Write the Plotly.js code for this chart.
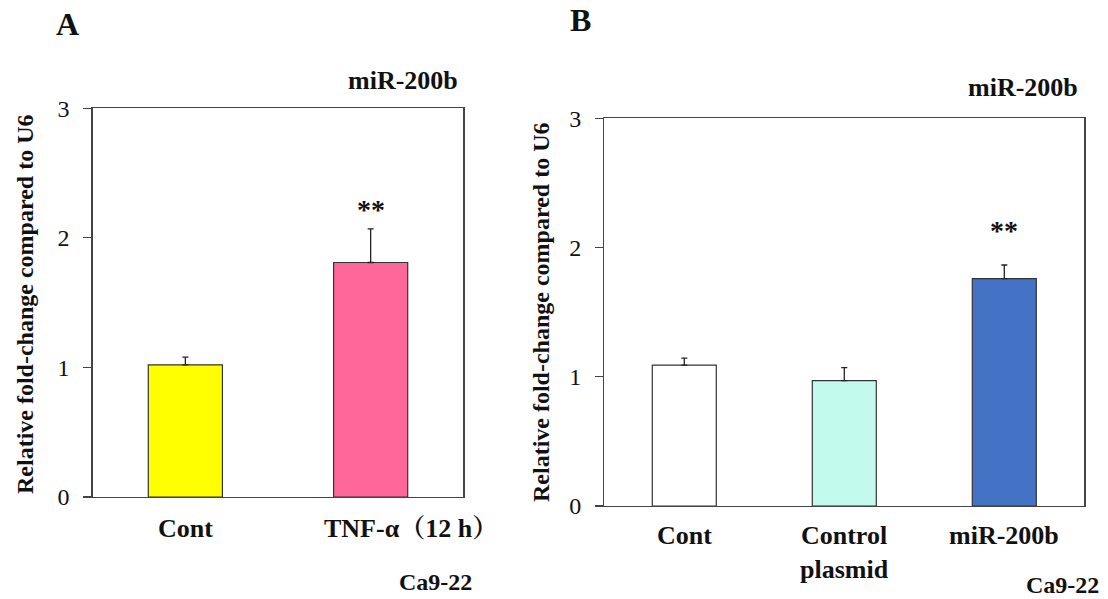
<!DOCTYPE html>
<html>
<head>
<meta charset="utf-8">
<script src="https://cdn.plot.ly/plotly-3.0.1.min.js"></script>
<style>html,body{margin:0;padding:0;background:#fff;}#chart{width:1108px;height:599px;}</style>
</head>
<body>
<div id="chart"></div>
<script>
// ---- data ----
const catsA = ['Cont', 'TNF-α（12 h）'];
const valsA = [1.02, 1.81];
const errA = [0.06, 0.26];
const sigA = ['', '**'];

const catsB = ['Cont', 'Control<br>plasmid', 'miR-200b'];
const valsB = [1.09, 0.97, 1.76];
const errB = [0.055, 0.10, 0.105];
const sigB = ['', '', '**'];

const yTicks = [0, 1, 2, 3];
const panelTitle = 'miR-200b';
const yTitle = 'Relative fold-change compared to U6';
const cellLine = 'Ca9-22';

// ---- styles ----
const colorsA = ['#FFFF00', '#FF6699'];
const colorsB = ['#FFFFFF', '#C2FBEE', '#4472C4'];
const SERIF = 'Liberation Serif, Times New Roman, Noto Serif CJK JP, Noto Sans CJK JP, serif';
const W = 1108, H = 599;
const px = v => v / W;
const py = v => 1 - v / H;

function barTrace(cats, vals, err, colors, xa, ya) {
  return {
    type: 'bar',
    x: cats.map((c, i) => i),
    y: vals,
    xaxis: xa, yaxis: ya,
    width: 0.4,
    marker: {color: colors, line: {color: '#333333', width: 1.2}},
    error_y: {type: 'data', symmetric: false, array: err, arrayminus: err.map(() => 0),
              color: '#222222', thickness: 1.3, width: 3},
    hoverinfo: 'skip',
    showlegend: false
  };
}

const data = [
  barTrace(catsA, valsA, errA, colorsA, 'x', 'y'),
  barTrace(catsB, valsB, errB, colorsB, 'x2', 'y2')
];

const yAxisCommon = {
  range: [0, 3], tickvals: yTicks, ticktext: yTicks.map(String),
  ticks: 'outside', ticklen: 8, tickwidth: 1.2, tickcolor: '#444',
  showline: true, linecolor: '#444', linewidth: 1.3, mirror: true,
  showgrid: false, zeroline: false, fixedrange: true,
  tickfont: {family: SERIF, size: 24, color: '#111'},
  ticklabelstandoff: 9
};
const xAxisCommon = {
  showline: true, linecolor: '#444', linewidth: 1.3, mirror: true,
  showgrid: false, zeroline: false, ticks: '', showticklabels: false, fixedrange: true
};

const annotations = [];
const boldFont = (s) => ({family: SERIF, size: s, color: '#111', weight: 'bold'});

// panel letters
annotations.push({text: '<b>A</b>', xref: 'paper', yref: 'paper', x: px(67), y: py(24),
  xanchor: 'center', yanchor: 'middle', showarrow: false, font: boldFont(32)});
annotations.push({text: '<b>B</b>', xref: 'paper', yref: 'paper', x: px(580), y: py(20),
  xanchor: 'center', yanchor: 'middle', showarrow: false, font: boldFont(32)});

// panel titles
annotations.push({text: '<b>' + panelTitle + '</b>', xref: 'paper', yref: 'paper', x: px(460), y: py(80),
  xanchor: 'right', yanchor: 'middle', showarrow: false, font: boldFont(26)});
annotations.push({text: '<b>' + panelTitle + '</b>', xref: 'paper', yref: 'paper', x: px(1080), y: py(88),
  xanchor: 'right', yanchor: 'middle', showarrow: false, font: boldFont(26)});

// y titles
annotations.push({text: '<b>' + yTitle + '</b>', xref: 'paper', yref: 'paper', x: px(25), y: py(304),
  xanchor: 'center', yanchor: 'middle', textangle: -90, showarrow: false, font: boldFont(24)});
annotations.push({text: '<b>' + yTitle + '</b>', xref: 'paper', yref: 'paper', x: px(541), y: py(312),
  xanchor: 'center', yanchor: 'middle', textangle: -90, showarrow: false, font: boldFont(24)});

// category labels
catsA.forEach((c, i) => annotations.push({text: '<b>' + c + '</b>', xref: 'x', yref: 'paper', x: i, y: py(512),
  xanchor: 'center', yanchor: 'top', xshift: i === 1 ? 40 : 0, showarrow: false, font: boldFont(26)}));
catsB.forEach((c, i) => annotations.push({text: '<b>' + c + '</b>', xref: 'x2', yref: 'paper', x: i, y: py(519),
  xanchor: 'center', yanchor: 'top', showarrow: false, font: boldFont(26)}));

// significance marks
const sigFont = {family: SERIF, size: 28, color: '#111', weight: 'bold'};
sigA.forEach((s, i) => { if (s) annotations.push({text: '<b>' + s + '</b>', xref: 'x', yref: 'y', x: i, y: 2.22,
  xanchor: 'center', yanchor: 'middle', showarrow: false, font: sigFont}); });
sigB.forEach((s, i) => { if (s) annotations.push({text: '<b>' + s + '</b>', xref: 'x2', yref: 'y2', x: i, y: 2.13,
  xanchor: 'center', yanchor: 'middle', showarrow: false, font: sigFont}); });

// cell line
annotations.push({text: '<b>' + cellLine + '</b>', xref: 'paper', yref: 'paper', x: px(474), y: py(582),
  xanchor: 'right', yanchor: 'middle', showarrow: false, font: boldFont(24)});
annotations.push({text: '<b>' + cellLine + '</b>', xref: 'paper', yref: 'paper', x: px(1101), y: py(585),
  xanchor: 'right', yanchor: 'middle', showarrow: false, font: boldFont(24)});

const layout = {
  width: W, height: H, autosize: false,
  margin: {l: 0, r: 0, t: 0, b: 0},
  paper_bgcolor: '#fff', plot_bgcolor: '#fff',
  font: {family: SERIF, color: '#111'},
  xaxis: Object.assign({}, xAxisCommon, {domain: [px(92.7), px(463.3)], range: [-0.5, catsA.length - 0.5], anchor: 'y'}),
  yaxis: Object.assign({}, yAxisCommon, {domain: [py(497), py(108.3)], anchor: 'x'}),
  xaxis2: Object.assign({}, xAxisCommon, {domain: [px(604.3), px(1084.3)], range: [-0.5, catsB.length - 0.5], anchor: 'y2'}),
  yaxis2: Object.assign({}, yAxisCommon, {domain: [py(506), py(118.3)], anchor: 'x2'}),
  annotations: annotations,
  bargap: 0.6
};

Plotly.newPlot('chart', data, layout, {displayModeBar: false, staticPlot: true});
</script>
</body>
</html>
